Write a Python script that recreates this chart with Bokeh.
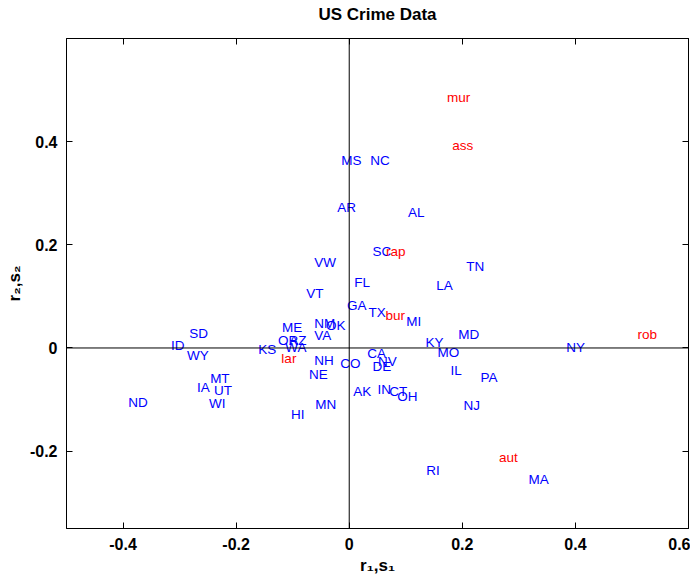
from bokeh.plotting import figure
from bokeh.models import Span, LinearAxis, FixedTicker, ColumnDataSource, Range1d
from bokeh.embed import file_html
from bokeh.resources import INLINE
from bokeh.core.properties import value

states = ["MS", "NC", "AR", "AL", "SC", "VW", "TN", "FL", "LA", "VT", "GA", "TX",
          "MI", "ME", "NM", "OK", "SD", "MD", "VA", "OR", "AZ", "ID", "KY", "NY",
          "KS", "WA", "CA", "MO", "WY", "NV", "NH", "DE", "CO", "IL", "NE", "PA",
          "MT", "IA", "AK", "IN", "CT", "UT", "OH", "ND", "WI", "NJ", "MN", "HI",
          "RI", "MA"]
state_x = [-0.014, 0.037, -0.021, 0.104, 0.041, -0.062, 0.207, 0.009, 0.154, -0.076, -0.004, 0.034,
           0.101, -0.119, -0.062, -0.041, -0.283, 0.193, -0.062, -0.126, -0.106, -0.315, 0.135, 0.384,
           -0.161, -0.113, 0.032, 0.156, -0.287, 0.051, -0.062, 0.041, -0.016, 0.179, -0.071, 0.232,
           -0.246, -0.269, 0.007, 0.050, 0.071, -0.239, 0.085, -0.391, -0.248, 0.202, -0.060, -0.103,
           0.136, 0.317]
state_y = [0.363, 0.363, 0.272, 0.263, 0.187, 0.166, 0.158, 0.126, 0.122, 0.106, 0.083, 0.068,
           0.052, 0.039, 0.048, 0.043, 0.029, 0.027, 0.025, 0.014, 0.014, 0.004, 0.010, 0.0,
           -0.002, 0.0, -0.010, -0.008, -0.015, -0.027, -0.025, -0.035, -0.031, -0.043, -0.052, -0.058,
           -0.060, -0.077, -0.085, -0.081, -0.085, -0.083, -0.095, -0.106, -0.108, -0.112, -0.110, -0.129,
           -0.238, -0.255]

crimes = ["mur", "ass", "rap", "bur", "lar", "rob", "aut"]
crime_x = [0.173, 0.182, 0.065, 0.064, -0.120, 0.510, 0.265]
crime_y = [0.485, 0.392, 0.187, 0.062, -0.021, 0.027, -0.213]

x_ticks = [-0.4, -0.2, 0, 0.2, 0.4, 0.6]
x_tick_labels = ["-0.4", "-0.2", "0", "0.2", "0.4", "0.6"]
y_ticks = [-0.2, 0, 0.2, 0.4]
y_tick_labels = ["-0.2", "0", "0.2", "0.4"]

FONT = "Liberation Sans"
TITLE = "US Crime Data"

p = figure(frame_width=622, frame_height=490,
           x_range=Range1d(-0.5, 0.6), y_range=Range1d(-0.35, 0.6),
           output_backend="svg", toolbar_location=None,
           x_axis_label="r₁,s₁", y_axis_label="r₂,s₂",
           min_border_left=66, min_border_right=2,
           min_border_top=38, min_border_bottom=46)

p.xgrid.visible = False
p.ygrid.visible = False
p.outline_line_color = "black"
p.outline_line_width = 1
p.background_fill_color = "white"
p.border_fill_color = "white"

p.xaxis.ticker = FixedTicker(ticks=x_ticks)
p.yaxis.ticker = FixedTicker(ticks=y_ticks)
p.xaxis.major_label_overrides = dict(zip(x_ticks, x_tick_labels))
p.yaxis.major_label_overrides = dict(zip(y_ticks, y_tick_labels))

for ax in [p.xaxis[0], p.yaxis[0]]:
    ax.major_tick_in = 6
    ax.major_tick_out = 0
    ax.minor_tick_in = 0
    ax.minor_tick_out = 0
    ax.axis_line_color = "black"
    ax.major_tick_line_color = "black"
    ax.major_label_text_font = FONT
    ax.major_label_text_font_size = "16px"
    ax.major_label_text_font_style = "bold"
    ax.major_label_text_color = "black"
    ax.axis_label_text_font = FONT
    ax.axis_label_text_font_size = "17px"
    ax.axis_label_text_font_style = "bold"
    ax.axis_label_text_color = "black"
    ax.major_label_standoff = 9
    ax.axis_label_standoff = 3

top_ax = LinearAxis(ticker=FixedTicker(ticks=x_ticks), major_tick_in=6, major_tick_out=0,
                    minor_tick_in=0, minor_tick_out=0, major_label_text_font_size="1px",
                    major_label_text_color=None, major_label_standoff=0, axis_line_color="black",
                    axis_label=TITLE, axis_label_text_font=FONT, axis_label_text_font_size="17px",
                    axis_label_text_font_style="bold", axis_label_text_color="black",
                    axis_label_standoff=15)
right_ax = LinearAxis(ticker=FixedTicker(ticks=y_ticks), major_tick_in=6, major_tick_out=0,
                      minor_tick_in=0, minor_tick_out=0, major_label_text_font_size="1px",
                      major_label_text_color=None, major_label_standoff=0, axis_line_color="black")
p.add_layout(top_ax, "above")
p.add_layout(right_ax, "right")

p.add_layout(Span(location=0, dimension="width", line_color="black", line_width=1))
p.add_layout(Span(location=0, dimension="height", line_color="black", line_width=1))

src_s = ColumnDataSource(dict(x=state_x, y=state_y, t=states))
src_c = ColumnDataSource(dict(x=crime_x, y=crime_y, t=crimes))

p.text(x="x", y="y", text="t", source=src_s, text_color="#0000ff",
       text_font=value(FONT), text_font_size="13.5px",
       text_align="left", text_baseline="middle")
p.text(x="x", y="y", text="t", source=src_c, text_color="#ff0000",
       text_font=value(FONT), text_font_size="13.5px",
       text_align="left", text_baseline="middle")

open("out.html", "w").write(file_html(p, INLINE))
